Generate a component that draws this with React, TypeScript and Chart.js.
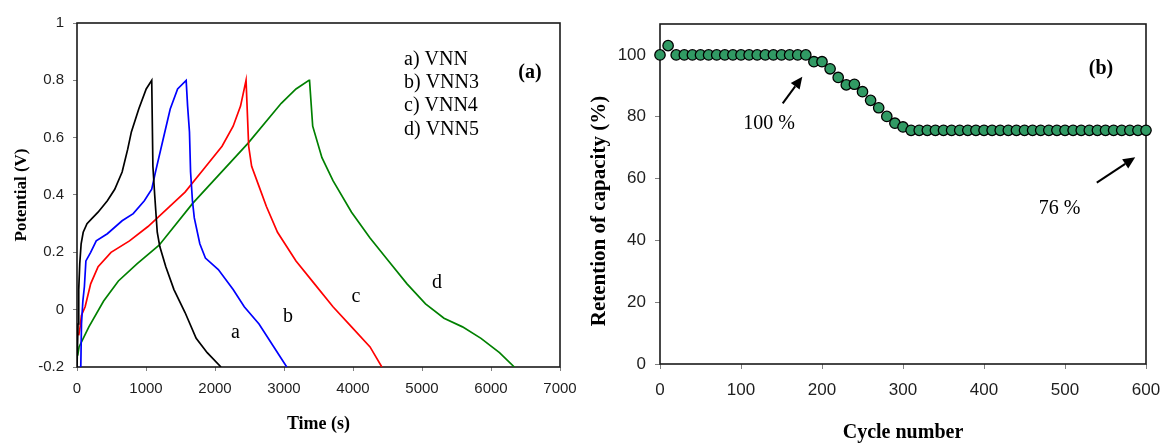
import React, { useEffect, useRef } from 'react';
import { Chart, registerables } from 'chart.js';

Chart.register(...registerables);

// ---------------- Data ----------------
const timeTicks = [0, 1000, 2000, 3000, 4000, 5000, 6000, 7000];
const potentialTicks = [-0.2, 0, 0.2, 0.4, 0.6, 0.8, 1];
const cycleTicks = [0, 100, 200, 300, 400, 500, 600];
const retentionTicks = [0, 20, 40, 60, 80, 100];

const seriesNames = ['a) VNN', 'b) VNN3', 'c) VNN4', 'd) VNN5'];
const curveLetters = ['a', 'b', 'c', 'd'];

const vnnTime = [0, 15, 25, 40, 60, 90, 145, 225, 305, 440, 547, 654, 735, 788, 895, 1003, 1083, 1100, 1126, 1163, 1200, 1287, 1405, 1566, 1727, 1887, 2087];
const vnnPotential = [-0.2, -0.05, 0.07, 0.16, 0.23, 0.27, 0.3, 0.32, 0.34, 0.38, 0.42, 0.48, 0.56, 0.62, 0.7, 0.77, 0.8, 0.5, 0.4, 0.27, 0.22, 0.15, 0.07, -0.01, -0.1, -0.15, -0.2];

const vnn3Time = [40, 55, 65, 85, 107, 129, 198, 279, 440, 654, 815, 976, 1083, 1137, 1244, 1351, 1458, 1582, 1603, 1630, 1646, 1673, 1700, 1780, 1861, 2048, 2263, 2424, 2638, 2853, 3040];
const vnn3Potential = [-0.2, -0.2, -0.05, 0.03, 0.08, 0.17, 0.2, 0.24, 0.265, 0.31, 0.335, 0.38, 0.42, 0.48, 0.59, 0.7, 0.77, 0.8, 0.71, 0.62, 0.48, 0.38, 0.32, 0.23, 0.18, 0.14, 0.07, 0.01, -0.05, -0.13, -0.2];

const vnn4Time = [25, 45, 64, 118, 198, 306, 493, 761, 1029, 1298, 1566, 1834, 2102, 2263, 2370, 2450, 2460, 2488, 2531, 2638, 2745, 2906, 3174, 3442, 3710, 3979, 4247, 4418];
const vnn4Potential = [-0.09, -0.06, -0.02, 0.01, 0.09, 0.15, 0.2, 0.24, 0.29, 0.35, 0.41, 0.49, 0.57, 0.64, 0.71, 0.8, 0.8, 0.57, 0.5, 0.43, 0.36, 0.27, 0.17, 0.09, 0.01, -0.06, -0.13, -0.2];

const vnn5Time = [10, 30, 172, 386, 600, 869, 1190, 1673, 2477, 2960, 3174, 3362, 3370, 3416, 3550, 3710, 3979, 4247, 4515, 4783, 5051, 5319, 5587, 5855, 6123, 6338];
const vnn5Potential = [-0.16, -0.13, -0.06, 0.03, 0.1, 0.16, 0.225, 0.37, 0.58, 0.72, 0.77, 0.8, 0.8, 0.64, 0.53, 0.45, 0.34, 0.25, 0.17, 0.09, 0.02, -0.03, -0.06, -0.1, -0.15, -0.2];

const cycles = [0, 10, 20, 30, 40, 50, 60, 70, 80, 90, 100, 110, 120, 130, 140, 150, 160, 170, 180, 190, 200, 210, 220, 230, 240, 250, 260, 270, 280, 290, 300, 310, 320, 330, 340, 350, 360, 370, 380, 390, 400, 410, 420, 430, 440, 450, 460, 470, 480, 490, 500, 510, 520, 530, 540, 550, 560, 570, 580, 590, 600];
const retention = [100, 103, 100, 100, 100, 100, 100, 100, 100, 100, 100, 100, 100, 100, 100, 100, 100, 100, 100, 97.8, 97.8, 95.5, 92.7, 90.3, 90.5, 88.1, 85.3, 82.9, 80.1, 77.9, 76.7, 75.6, 75.6, 75.6, 75.6, 75.6, 75.6, 75.6, 75.6, 75.6, 75.6, 75.6, 75.6, 75.6, 75.6, 75.6, 75.6, 75.6, 75.6, 75.6, 75.6, 75.6, 75.6, 75.6, 75.6, 75.6, 75.6, 75.6, 75.6, 75.6, 75.6];

// ---------------- Styling ----------------
const SERIF = "'Liberation Serif', 'Times New Roman', serif";
const SANS = "'Liberation Sans', Arial, sans-serif";
const seriesColors = ['#000000', '#0000ff', '#ff0000', '#008000'];

type Txt = {
  text: string; x: number; y: number; size: number; bold?: boolean;
  align?: CanvasTextAlign; baseline?: CanvasTextBaseline; rotate?: boolean;
};
type Arrow = { x1: number; y1: number; x2: number; y2: number };

function makeDecor(texts: Txt[], arrows: Arrow[]) {
  return {
    id: 'decor',
    beforeDatasetsDraw(chart: any) {
      const { ctx, chartArea: a } = chart;
      ctx.save();
      ctx.strokeStyle = '#1a1a1a';
      ctx.lineWidth = 1.6;
      ctx.strokeRect(a.left, a.top, a.right - a.left, a.bottom - a.top);
      ctx.restore();
    },
    afterDraw(chart: any) {
      const { ctx } = chart;
      ctx.save();
      ctx.fillStyle = '#000';
      ctx.strokeStyle = '#000';
      for (const t of texts) {
        ctx.save();
        ctx.font = `${t.bold ? 'bold ' : ''}${t.size}px ${SERIF}`;
        ctx.textAlign = t.align || 'center';
        ctx.textBaseline = t.baseline || 'middle';
        ctx.translate(t.x, t.y);
        if (t.rotate) ctx.rotate(-Math.PI / 2);
        ctx.fillText(t.text, 0, 0);
        ctx.restore();
      }
      for (const ar of arrows) {
        const ang = Math.atan2(ar.y2 - ar.y1, ar.x2 - ar.x1);
        const head = 12;
        const hw = 5.5;
        const bx = ar.x2 - head * Math.cos(ang);
        const by = ar.y2 - head * Math.sin(ang);
        ctx.lineWidth = 2;
        ctx.beginPath();
        ctx.moveTo(ar.x1, ar.y1);
        ctx.lineTo(bx, by);
        ctx.stroke();
        ctx.beginPath();
        ctx.moveTo(ar.x2, ar.y2);
        ctx.lineTo(bx + hw * Math.sin(ang), by - hw * Math.cos(ang));
        ctx.lineTo(bx - hw * Math.sin(ang), by + hw * Math.cos(ang));
        ctx.closePath();
        ctx.fill();
      }
      ctx.restore();
    },
  };
}

function zip(xs: number[], ys: number[]) {
  return xs.map((x, i) => ({ x, y: ys[i] }));
}

function fixSize(prop: 'width' | 'height', size: number) {
  return (s: any) => {
    s[prop] = size;
    s.paddingLeft = 0;
    s.paddingRight = 0;
    s.paddingTop = 0;
    s.paddingBottom = 0;
  };
}

function axis(
  tickValues: number[], min: number, max: number, fit: (s: any) => void,
  tickSize: number, tickLength: number, tickPadding: number, title?: any,
  fmt?: (v: number) => string,
) {
  return {
    type: 'linear',
    min,
    max,
    afterBuildTicks: (s: any) => { s.ticks = tickValues.map((value) => ({ value })); },
    afterFit: fit,
    grid: { drawOnChartArea: false, drawTicks: true, tickLength, tickColor: '#808080', tickWidth: 1 },
    border: { display: false },
    ticks: {
      font: { family: SANS, size: tickSize },
      color: '#1e1e1e',
      padding: tickPadding,
      autoSkip: false,
      maxRotation: 0,
      callback: (v: any) => (fmt ? fmt(Number(v)) : String(v)),
    },
    title: title || { display: false },
  };
}

function LeftChart() {
  const ref = useRef<HTMLCanvasElement>(null);
  useEffect(() => {
    const times = [vnnTime, vnn3Time, vnn4Time, vnn5Time];
    const pots = [vnnPotential, vnn3Potential, vnn4Potential, vnn5Potential];
    const texts: Txt[] = [
      ...seriesNames.map((n, i) => ({ text: n, x: 404, y: 59.5 + i * 23.3, size: 20, align: 'left' as CanvasTextAlign })),
      { text: '(a)', x: 530, y: 73, size: 20, bold: true },
      { text: curveLetters[0], x: 235.5, y: 338, size: 20, baseline: 'alphabetic' },
      { text: curveLetters[1], x: 288, y: 321.5, size: 20, baseline: 'alphabetic' },
      { text: curveLetters[2], x: 356, y: 301.5, size: 20, baseline: 'alphabetic' },
      { text: curveLetters[3], x: 437, y: 288, size: 20, baseline: 'alphabetic' },
    ];
    const chart = new Chart(ref.current as HTMLCanvasElement, {
      type: 'line',
      data: {
        datasets: seriesNames.map((name, i) => ({
          label: name,
          data: zip(times[i], pots[i]),
          borderColor: seriesColors[i],
          backgroundColor: seriesColors[i],
          borderWidth: 1.7,
          pointRadius: 0,
          tension: 0,
          fill: false,
        })),
      },
      options: {
        animation: false,
        responsive: false,
        devicePixelRatio: 1,
        layout: { padding: { top: 23, right: 20, left: 0, bottom: 0 } },
        plugins: { legend: { display: false }, tooltip: { enabled: false } },
        scales: {
          x: axis(timeTicks, 0, 7000, fixSize('height', 76), 15, 4, 9, {
            display: true, text: 'Time (s)', color: '#000',
            font: { family: SERIF, size: 18, weight: 'bold' }, padding: { top: 0, bottom: 8 },
          }),
          y: axis(potentialTicks, -0.2, 1, fixSize('width', 77), 15, 4, 9, {
            display: true, text: 'Potential (V)', color: '#000',
            font: { family: SERIF, size: 17, weight: 'bold' }, padding: { top: 11, bottom: 0 },
          }, (v) => String(Math.round(v * 10) / 10)),
        },
      } as any,
      plugins: [makeDecor(texts, [])],
    });
    return () => chart.destroy();
  }, []);
  return <canvas ref={ref} width={580} height={443} style={{ position: 'absolute', left: 0, top: 0, width: 580, height: 443 }} />;
}

function RightChart() {
  const ref = useRef<HTMLCanvasElement>(null);
  useEffect(() => {
    const texts: Txt[] = [
      { text: '(b)', x: 521, y: 69, size: 20, bold: true },
      { text: '100 %', x: 189, y: 124, size: 20 },
      { text: '76 %', x: 479.5, y: 209, size: 20 },
      { text: 'Retention of capacity (%)', x: 20, y: 211, size: 21, bold: true, rotate: true },
    ];
    const arrows: Arrow[] = [
      { x1: 202.7, y1: 103.3, x2: 222.3, y2: 76.7 },
      { x1: 516.8, y1: 182.7, x2: 555.2, y2: 157.3 },
    ];
    const chart = new Chart(ref.current as HTMLCanvasElement, {
      type: 'line',
      data: {
        datasets: [{
          label: 'Retention',
          data: zip(cycles, retention),
          showLine: false,
          pointRadius: 5.2,
          pointBorderWidth: 1.3,
          pointBackgroundColor: '#319a64',
          pointBorderColor: '#000000',
          clip: false,
        }],
      },
      options: {
        animation: false,
        responsive: false,
        devicePixelRatio: 1,
        layout: { padding: { top: 24, right: 17, left: 0, bottom: 0 } },
        plugins: { legend: { display: false }, tooltip: { enabled: false } },
        scales: {
          x: axis(cycleTicks, 0, 600, fixSize('height', 79), 17, 5, 11, {
            display: true, text: 'Cycle number', color: '#000',
            font: { family: SERIF, size: 20, weight: 'bold', lineHeight: 1 }, padding: { top: 0, bottom: 0 },
          }),
          y: axis(retentionTicks, 0, 110, fixSize('width', 80), 17, 5, 9),
        },
      } as any,
      plugins: [makeDecor(texts, arrows)],
    });
    return () => chart.destroy();
  }, []);
  return <canvas ref={ref} width={583} height={443} style={{ position: 'absolute', left: 580, top: 0, width: 583, height: 443 }} />;
}

export default function App() {
  return (
    <div style={{ position: 'absolute', left: 0, top: 0, width: 1163, height: 443, background: '#fff', overflow: 'hidden' }}>
      <LeftChart />
      <RightChart />
    </div>
  );
}
